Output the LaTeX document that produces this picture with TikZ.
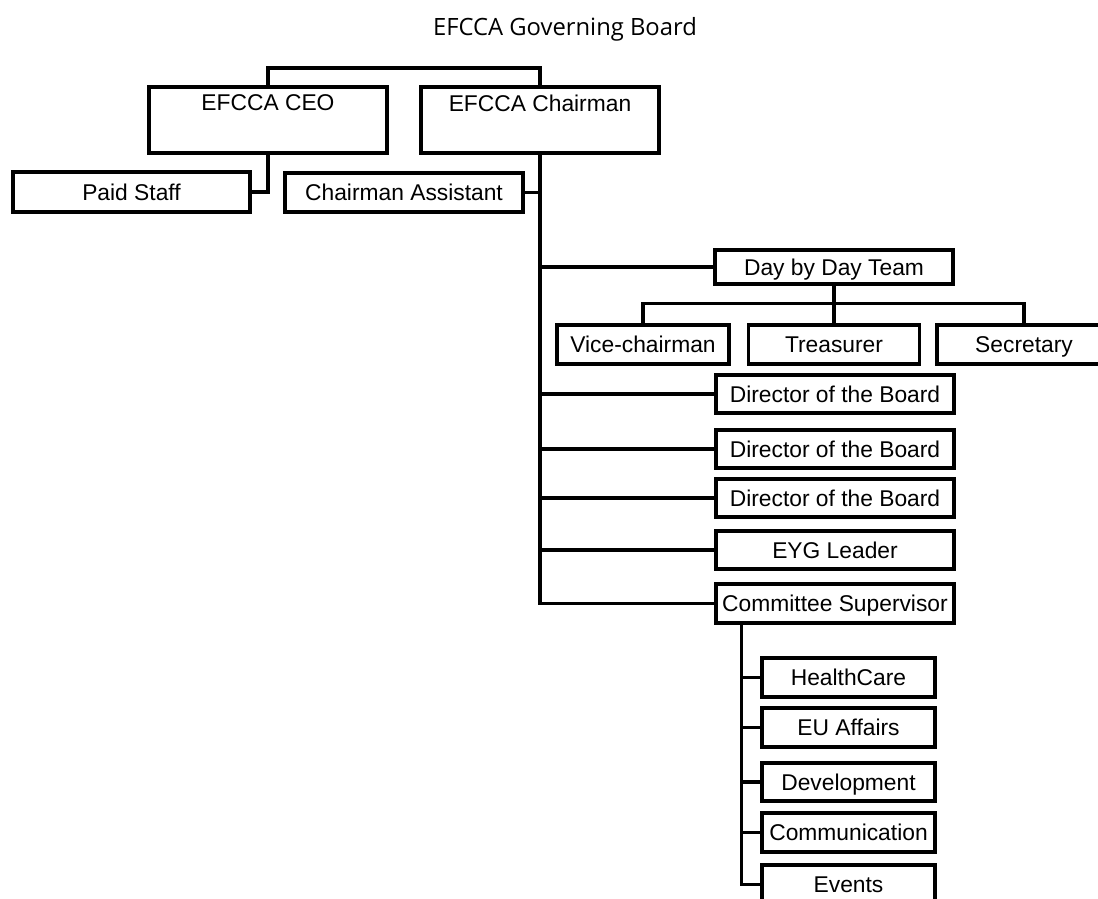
\documentclass[tikz,border=0pt]{standalone}
\usepackage{fontspec}
\setmainfont{Liberation Sans}
\newfontfamily\titlefont{Open Sans}
\begin{document}
\begin{tikzpicture}[x=1pt,y=-1pt,
  boxfont/.style={font=\fontsize{22.8}{26}\selectfont},
  box/.style={draw, line width=3.2pt, rectangle, inner sep=0pt, boxfont,
    text height=20pt, text depth=3.6pt},
  link/.style={draw, line width=3.2pt}]
\useasboundingbox (0,0) rectangle (1098,899);
\clip (0,0) rectangle (1098,899);

\node[font=\titlefont\fontsize{23.8}{28}\selectfont] (title) at (565,29) {EFCCA Governing Board};

\node[box, minimum width=238pt, minimum height=66pt,
  label={[anchor=north, yshift=-6pt, boxfont]north:EFCCA CEO}] (ceo) at (268,120) {};
\node[box, minimum width=238pt, minimum height=66pt,
  label={[anchor=north, yshift=-6pt, boxfont]north:EFCCA Chairman}] (chair) at (540,120) {};

\node[box, minimum width=237pt, minimum height=40pt] (paid) at (131.5,192) {Paid Staff};
\node[box, minimum width=238pt, minimum height=39pt] (assist) at (404,192.5) {Chairman Assistant};

\node[box, minimum width=238pt, minimum height=34pt] (day) at (834,267) {Day by Day Team};
\node[box, minimum width=172pt, minimum height=39pt] (vice) at (643,344.5) {Vice-chairman};
\node[box, minimum width=171pt, minimum height=39pt] (treas) at (834,344.5) {Treasurer};
\node[box, minimum width=174pt, minimum height=39pt] (secr) at (1024,344.5) {Secretary};

\node[box, minimum width=238pt, minimum height=38pt] (dir1) at (835,394) {Director of the Board};
\node[box, minimum width=238pt, minimum height=38pt] (dir2) at (835,449) {Director of the Board};
\node[box, minimum width=238pt, minimum height=38pt] (dir3) at (835,498) {Director of the Board};
\node[box, minimum width=238pt, minimum height=38pt] (eyg) at (835,550) {EYG Leader};
\node[box, minimum width=238pt, minimum height=39pt] (comm) at (835,603.5) {Committee Supervisor};

\node[box, minimum width=173pt, minimum height=39pt] (health) at (848.5,677.5) {HealthCare};
\node[box, minimum width=173pt, minimum height=39pt] (eu) at (848.5,727.5) {EU Affairs};
\node[box, minimum width=173pt, minimum height=38pt] (dev) at (848.5,782) {Development};
\node[box, minimum width=173pt, minimum height=39pt] (commun) at (848.5,832.5) {Communication};
\node[box, minimum width=173pt, minimum height=39pt] (events) at (848.5,884.5) {Events};

\coordinate (top) at (405,68);
\draw[link] (ceo.north) |- (top) -| (chair.north);
\draw[link] (ceo.south) |- (paid.east);

\draw[link] (chair.south) |- (comm.west);
\draw[link] (assist.east) -- (assist.east -| chair.south);
\draw[link] (day.west) -- (day.west -| chair.south);
\draw[link] (dir1.west) -- (dir1.west -| chair.south);
\draw[link] (dir2.west) -- (dir2.west -| chair.south);
\draw[link] (dir3.west) -- (dir3.west -| chair.south);
\draw[link] (eyg.west) -- (eyg.west -| chair.south);

\draw[link] (day.south) -- (treas.north);
\draw[link] (vice.north) -- ++(0,-20) -| (secr.north);

\coordinate (cs) at ([xshift=27pt]comm.south west);
\draw[link] (cs) |- (events.west);
\draw[link] (health.west) -- (health.west -| cs);
\draw[link] (eu.west) -- (eu.west -| cs);
\draw[link] (dev.west) -- (dev.west -| cs);
\draw[link] (commun.west) -- (commun.west -| cs);
\end{tikzpicture}
\end{document}
